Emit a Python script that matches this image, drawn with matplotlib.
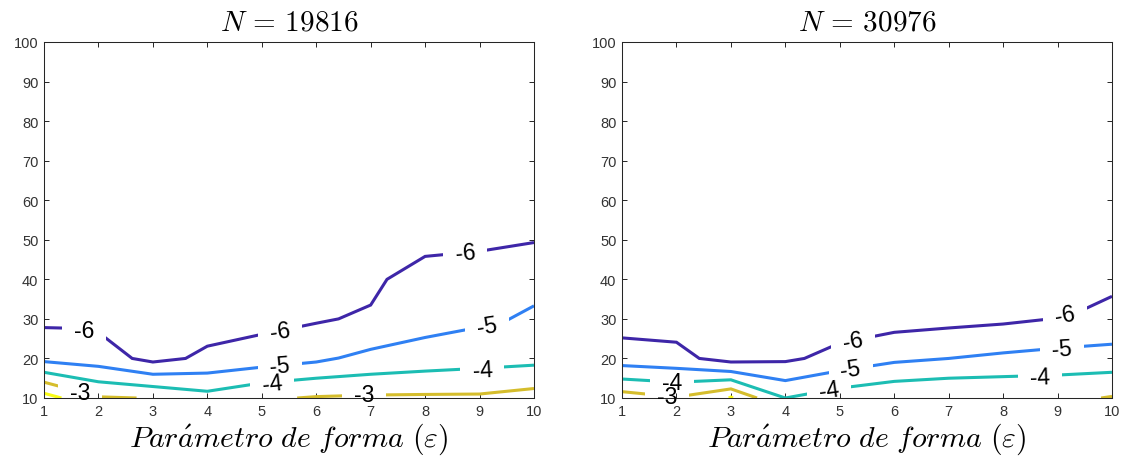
import numpy as np
import matplotlib
matplotlib.use("Agg")
import matplotlib.pyplot as plt
from matplotlib.path import Path

plt.rcParams["mathtext.fontset"] = "cm"
plt.rcParams["font.family"] = ["Liberation Sans", "DejaVu Sans"]

# ---- contour levels (log10 of the error) and their colours ----
levels = [-6, -5, -4, -3, -2]
level_colors = {-6: "#3e26a8", -5: "#2f80f3", -4: "#1cbdb3", -3: "#d5bd2c", -2: "#f9fb15"}

x_ticks = list(range(1, 11))
y_ticks = list(range(10, 101, 10))

titles = [r"$N\,=\,19816$", r"$N\,=\,30976$"]
xlabel_text = r"$Par\acute{a}metro\ de\ forma\ (\varepsilon)$"

# ---- N = 19816 ----
a_m6_x = [1.0, 1.6, 2.0, 2.62, 3.0, 3.6, 4.0, 5.0, 6.0, 6.41, 7.0, 7.3, 8.0, 9.0, 10.0]
a_m6_y = [27.8, 27.6, 26.6, 20.0, 19.1, 20.0, 23.1, 26.1, 28.9, 30.0, 33.5, 40.0, 45.8, 47.1, 49.3]
a_m5_x = [1.0, 2.0, 3.0, 4.0, 5.0, 6.0, 6.41, 7.0, 8.0, 9.0, 9.5, 10.0]
a_m5_y = [19.2, 18.0, 16.0, 16.3, 17.8, 19.1, 20.1, 22.3, 25.3, 27.9, 29.6, 33.3]
a_m4_x = [1.0, 2.0, 3.0, 4.0, 5.0, 6.0, 7.0, 8.0, 9.0, 10.0]
a_m4_y = [16.5, 14.1, 12.9, 11.7, 13.8, 15.0, 16.0, 16.8, 17.5, 18.3]
a_m3a_x = [1.0, 1.3, 2.0, 2.7]
a_m3a_y = [14.0, 12.9, 10.3, 10.0]
a_m3b_x = [5.65, 6.0, 7.0, 8.0, 9.0, 10.0]
a_m3b_y = [10.0, 10.35, 10.75, 10.9, 11.0, 12.4]
a_m2_x = [1.0, 1.32]
a_m2_y = [11.2, 10.0]

# ---- N = 30976 ----
b_m6_x = [1.0, 2.0, 2.42, 3.0, 4.0, 4.35, 5.0, 6.0, 7.0, 8.0, 9.0, 9.5, 10.0]
b_m6_y = [25.2, 24.1, 20.0, 19.1, 19.2, 20.0, 23.9, 26.6, 27.7, 28.7, 30.2, 32.5, 35.7]
b_m5_x = [1.0, 2.0, 3.0, 4.0, 5.0, 6.0, 7.0, 8.0, 9.0, 10.0]
b_m5_y = [18.2, 17.5, 16.7, 14.4, 16.9, 19.0, 20.0, 21.4, 22.6, 23.6]
b_m4_x = [1.0, 2.0, 3.0, 4.0, 5.0, 6.0, 7.0, 8.0, 9.0, 10.0]
b_m4_y = [14.8, 14.0, 14.6, 10.0, 12.5, 14.2, 15.0, 15.4, 15.8, 16.5]
b_m3a_x = [1.0, 2.0, 3.0, 3.48]
b_m3a_y = [11.6, 10.25, 12.3, 10.0]
b_m3b_x = [9.8, 10.0]
b_m3b_y = [10.0, 10.4]
b_m2_x = [2.96, 3.0, 3.04]
b_m2_y = [10.0, 10.25, 10.0]

# contour pieces per panel: (level, x, y)
panel_lines = [
    [(-6, a_m6_x, a_m6_y), (-5, a_m5_x, a_m5_y), (-4, a_m4_x, a_m4_y),
     (-3, a_m3a_x, a_m3a_y), (-3, a_m3b_x, a_m3b_y), (-2, a_m2_x, a_m2_y)],
    [(-6, b_m6_x, b_m6_y), (-5, b_m5_x, b_m5_y), (-4, b_m4_x, b_m4_y),
     (-3, b_m3a_x, b_m3a_y), (-3, b_m3b_x, b_m3b_y), (-2, b_m2_x, b_m2_y)],
]

# inline labels per panel: (level, x, y, rotation)
panel_labels = [
    [(-6, 1.73, 27.0, 0), (-6, 5.33, 26.9, 8), (-6, 8.74, 46.8, 5),
     (-5, 5.33, 18.3, 5), (-5, 9.13, 28.1, 9),
     (-4, 5.19, 13.6, 6), (-4, 9.05, 17.2, 3),
     (-3, 1.66, 11.3, 0), (-3, 6.88, 10.9, 0)],
    [(-6, 5.25, 24.4, 10), (-6, 9.14, 30.9, 10),
     (-5, 5.2, 17.2, 8), (-5, 9.08, 22.4, 4),
     (-4, 1.92, 13.9, 0), (-4, 4.8, 11.9, 8), (-4, 8.68, 15.2, 2),
     (-3, 1.83, 10.4, 0)],
]

W, H = 1126, 460
fig = plt.figure(figsize=(W / 100, H / 100), dpi=100)

axes_px = [(44, 534), (622, 1112)]
top_px, bot_px = 43, 399
axis_color = "#262626"

gap_half_w_px = 22.0
gap_half_h_px = 12.0

for i, ax_px in enumerate(axes_px):
    x0, x1 = ax_px
    ax = fig.add_axes([x0 / W, (H - bot_px) / H, (x1 - x0) / W, (bot_px - top_px) / H])
    ax.set_xlim(1, 10)
    ax.set_ylim(10, 100)
    ax.set_xticks(x_ticks)
    ax.set_yticks(y_ticks)
    ax.tick_params(direction="in", top=True, right=True, length=3.5, width=0.7,
                   colors=axis_color, labelsize=10.5, pad=4)
    ax.tick_params(labelcolor="#333333")
    for sp in ax.spines.values():
        sp.set_color(axis_color)
        sp.set_linewidth(0.75)
    ax.set_title(titles[i], fontsize=21, pad=9)
    ax.set_xlabel(xlabel_text, fontsize=21.5, labelpad=2)

    # data units per pixel
    ux = 9.0 / (x1 - x0)
    uy = 90.0 / (bot_px - top_px)

    for level, xs, ys in panel_lines[i]:
        verts = [(1, 10), (10, 10), (10, 100), (1, 100), (1, 10)]
        codes = [Path.MOVETO, Path.LINETO, Path.LINETO, Path.LINETO, Path.CLOSEPOLY]
        for lv, lx, ly, rot in panel_labels[i]:
            if lv != level:
                continue
            a, c = lx - gap_half_w_px * ux, lx + gap_half_w_px * ux
            b, d = ly - gap_half_h_px * uy, ly + gap_half_h_px * uy
            verts += [(a, b), (a, d), (c, d), (c, b), (a, b)]
            codes += [Path.MOVETO, Path.LINETO, Path.LINETO, Path.LINETO, Path.CLOSEPOLY]
        clip = Path(verts, codes)
        (ln,) = ax.plot(xs, ys, color=level_colors[level], lw=2.2,
                        solid_capstyle="butt", solid_joinstyle="miter")
        ln.set_clip_path(clip, ax.transData)

    for lv, lx, ly, rot in panel_labels[i]:
        ax.text(lx, ly, str(lv), fontsize=16.5, ha="center", va="center",
                rotation=rot, color="black", clip_on=False)

fig.savefig("out.png", dpi=100)
